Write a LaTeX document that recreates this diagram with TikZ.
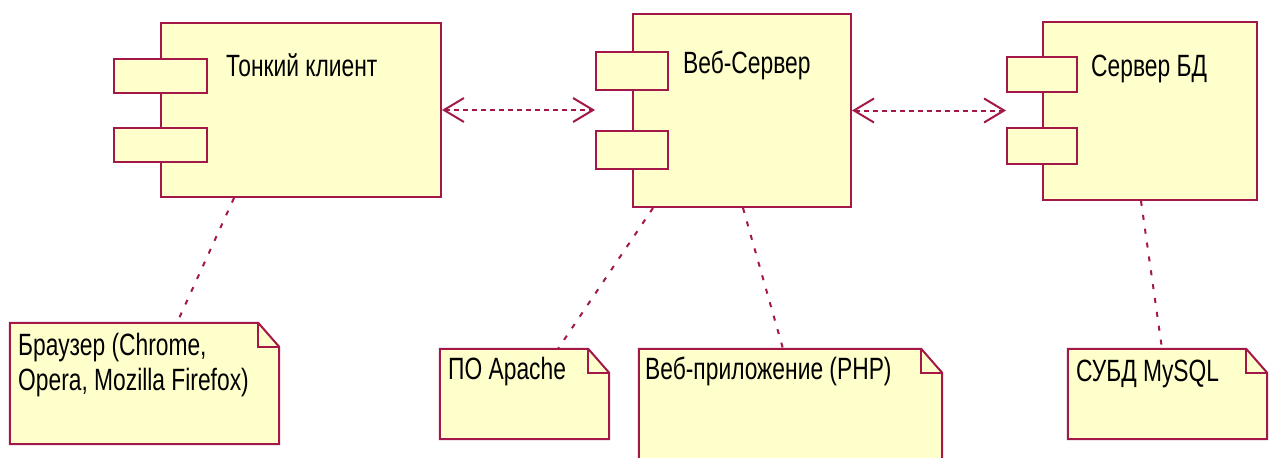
\documentclass[tikz,border=0pt]{standalone}
\usepackage{fontspec}
\setmainfont{Liberation Sans}
\usetikzlibrary{arrows.meta}
\definecolor{umlred}{RGB}{163,24,72}
\definecolor{umlfill}{RGB}{255,255,204}
\newcommand{\vtxt}[1]{\scalebox{1}[1.35]{#1}}
\newcommand{\notepath}[1]{%
  \draw[notedraw] (#1.north west) -- ([xshift=-21pt]#1.north east) -- ([yshift=-24pt]#1.north east) -- (#1.south east) -- (#1.south west) -- cycle;
  \draw[notedraw, fill=none] ([xshift=-21pt]#1.north east) |- ([yshift=-24pt]#1.north east);}
\begin{document}
\begin{tikzpicture}[x=1pt,y=-1pt,
  box/.style={draw=umlred, fill=umlfill, line width=2pt, rectangle, inner sep=0pt},
  lbl/.style={anchor=base west, inner sep=0pt, font=\fontsize{22.8}{28}\selectfont, text=black},
  notearea/.style={inner sep=0pt, rectangle},
  notedraw/.style={draw=umlred, fill=umlfill, line width=2pt, line join=miter},
  link/.style={draw=umlred, line width=2pt, dash pattern=on 5pt off 9pt},
  dep/.style={draw=umlred, line width=2pt, dash pattern=on 5pt off 4pt,
    {Straight Barb[length=20pt,width=24pt]}-{Straight Barb[length=20pt,width=24pt]}}
]
\useasboundingbox (0,0) rectangle (1275,458);
\fill[white] (0,0) rectangle (1275,458);
\clip (0,0) rectangle (1275,458);

% components
\node[box, minimum width=280pt, minimum height=174pt] (c1) at (301,110) {};
\node[box, minimum width=93pt, minimum height=34pt] (c1p1) at (160.5,76) {};
\node[box, minimum width=93pt, minimum height=34pt] (c1p2) at (160.5,145) {};
\node[lbl] (t1) at (226,76) {\vtxt{Тонкий клиент}};

\node[box, minimum width=218pt, minimum height=193pt] (c2) at (742,110.5) {};
\node[box, minimum width=72pt, minimum height=38pt] (c2p1) at (632,71) {};
\node[box, minimum width=72pt, minimum height=38pt] (c2p2) at (632,150) {};
\node[lbl] (t2) at (683,73) {\vtxt{Веб-Сервер}};

\node[box, minimum width=214pt, minimum height=178pt] (c3) at (1150,111) {};
\node[box, minimum width=70pt, minimum height=35pt] (c3p1) at (1042,74.5) {};
\node[box, minimum width=70pt, minimum height=36pt] (c3p2) at (1042,146) {};
\node[lbl] (t3) at (1091,76) {\vtxt{Сервер БД}};

% dependencies
\draw[dep] (c1.east) -- (c1.east -| c2p1.west);
\draw[dep] (c2.east) -- (c2.east -| c3p1.west);

% notes
\node[notearea, minimum width=269pt, minimum height=121pt] (n1) at (144.5,383.5) {};
\notepath{n1}
\node[lbl] (n1a) at (18,355) {\vtxt{Браузер (Chrome,}};
\node[lbl] (n1b) at (18,390) {\vtxt{Opera, Mozilla Firefox)}};

\node[notearea, minimum width=169pt, minimum height=90pt] (n2) at (524.5,394) {};
\notepath{n2}
\node[lbl] (n2a) at (448,379) {\vtxt{ПО Apache}};

\node[notearea, minimum width=303pt, minimum height=131pt] (n3) at (790.5,414.5) {};
\notepath{n3}
\node[lbl] (n3a) at (645,379) {\vtxt{Веб-приложение (PHP)}};

\node[notearea, minimum width=199pt, minimum height=90pt] (n4) at (1167.5,394) {};
\notepath{n4}
\node[lbl] (n4a) at (1076,381) {\vtxt{СУБД MySQL}};

% note links
\draw[link] ([xshift=-67pt]c1.south) -- ([xshift=32.5pt]n1.north);
\draw[link] ([xshift=-89pt]c2.south) -- ([xshift=33.5pt]n2.north);
\draw[link] ([xshift=1pt]c2.south) -- ([xshift=-7.5pt]n3.north);
\draw[link] ([xshift=-9pt]c3.south) -- ([xshift=-5.5pt]n4.north);
\end{tikzpicture}
\end{document}
